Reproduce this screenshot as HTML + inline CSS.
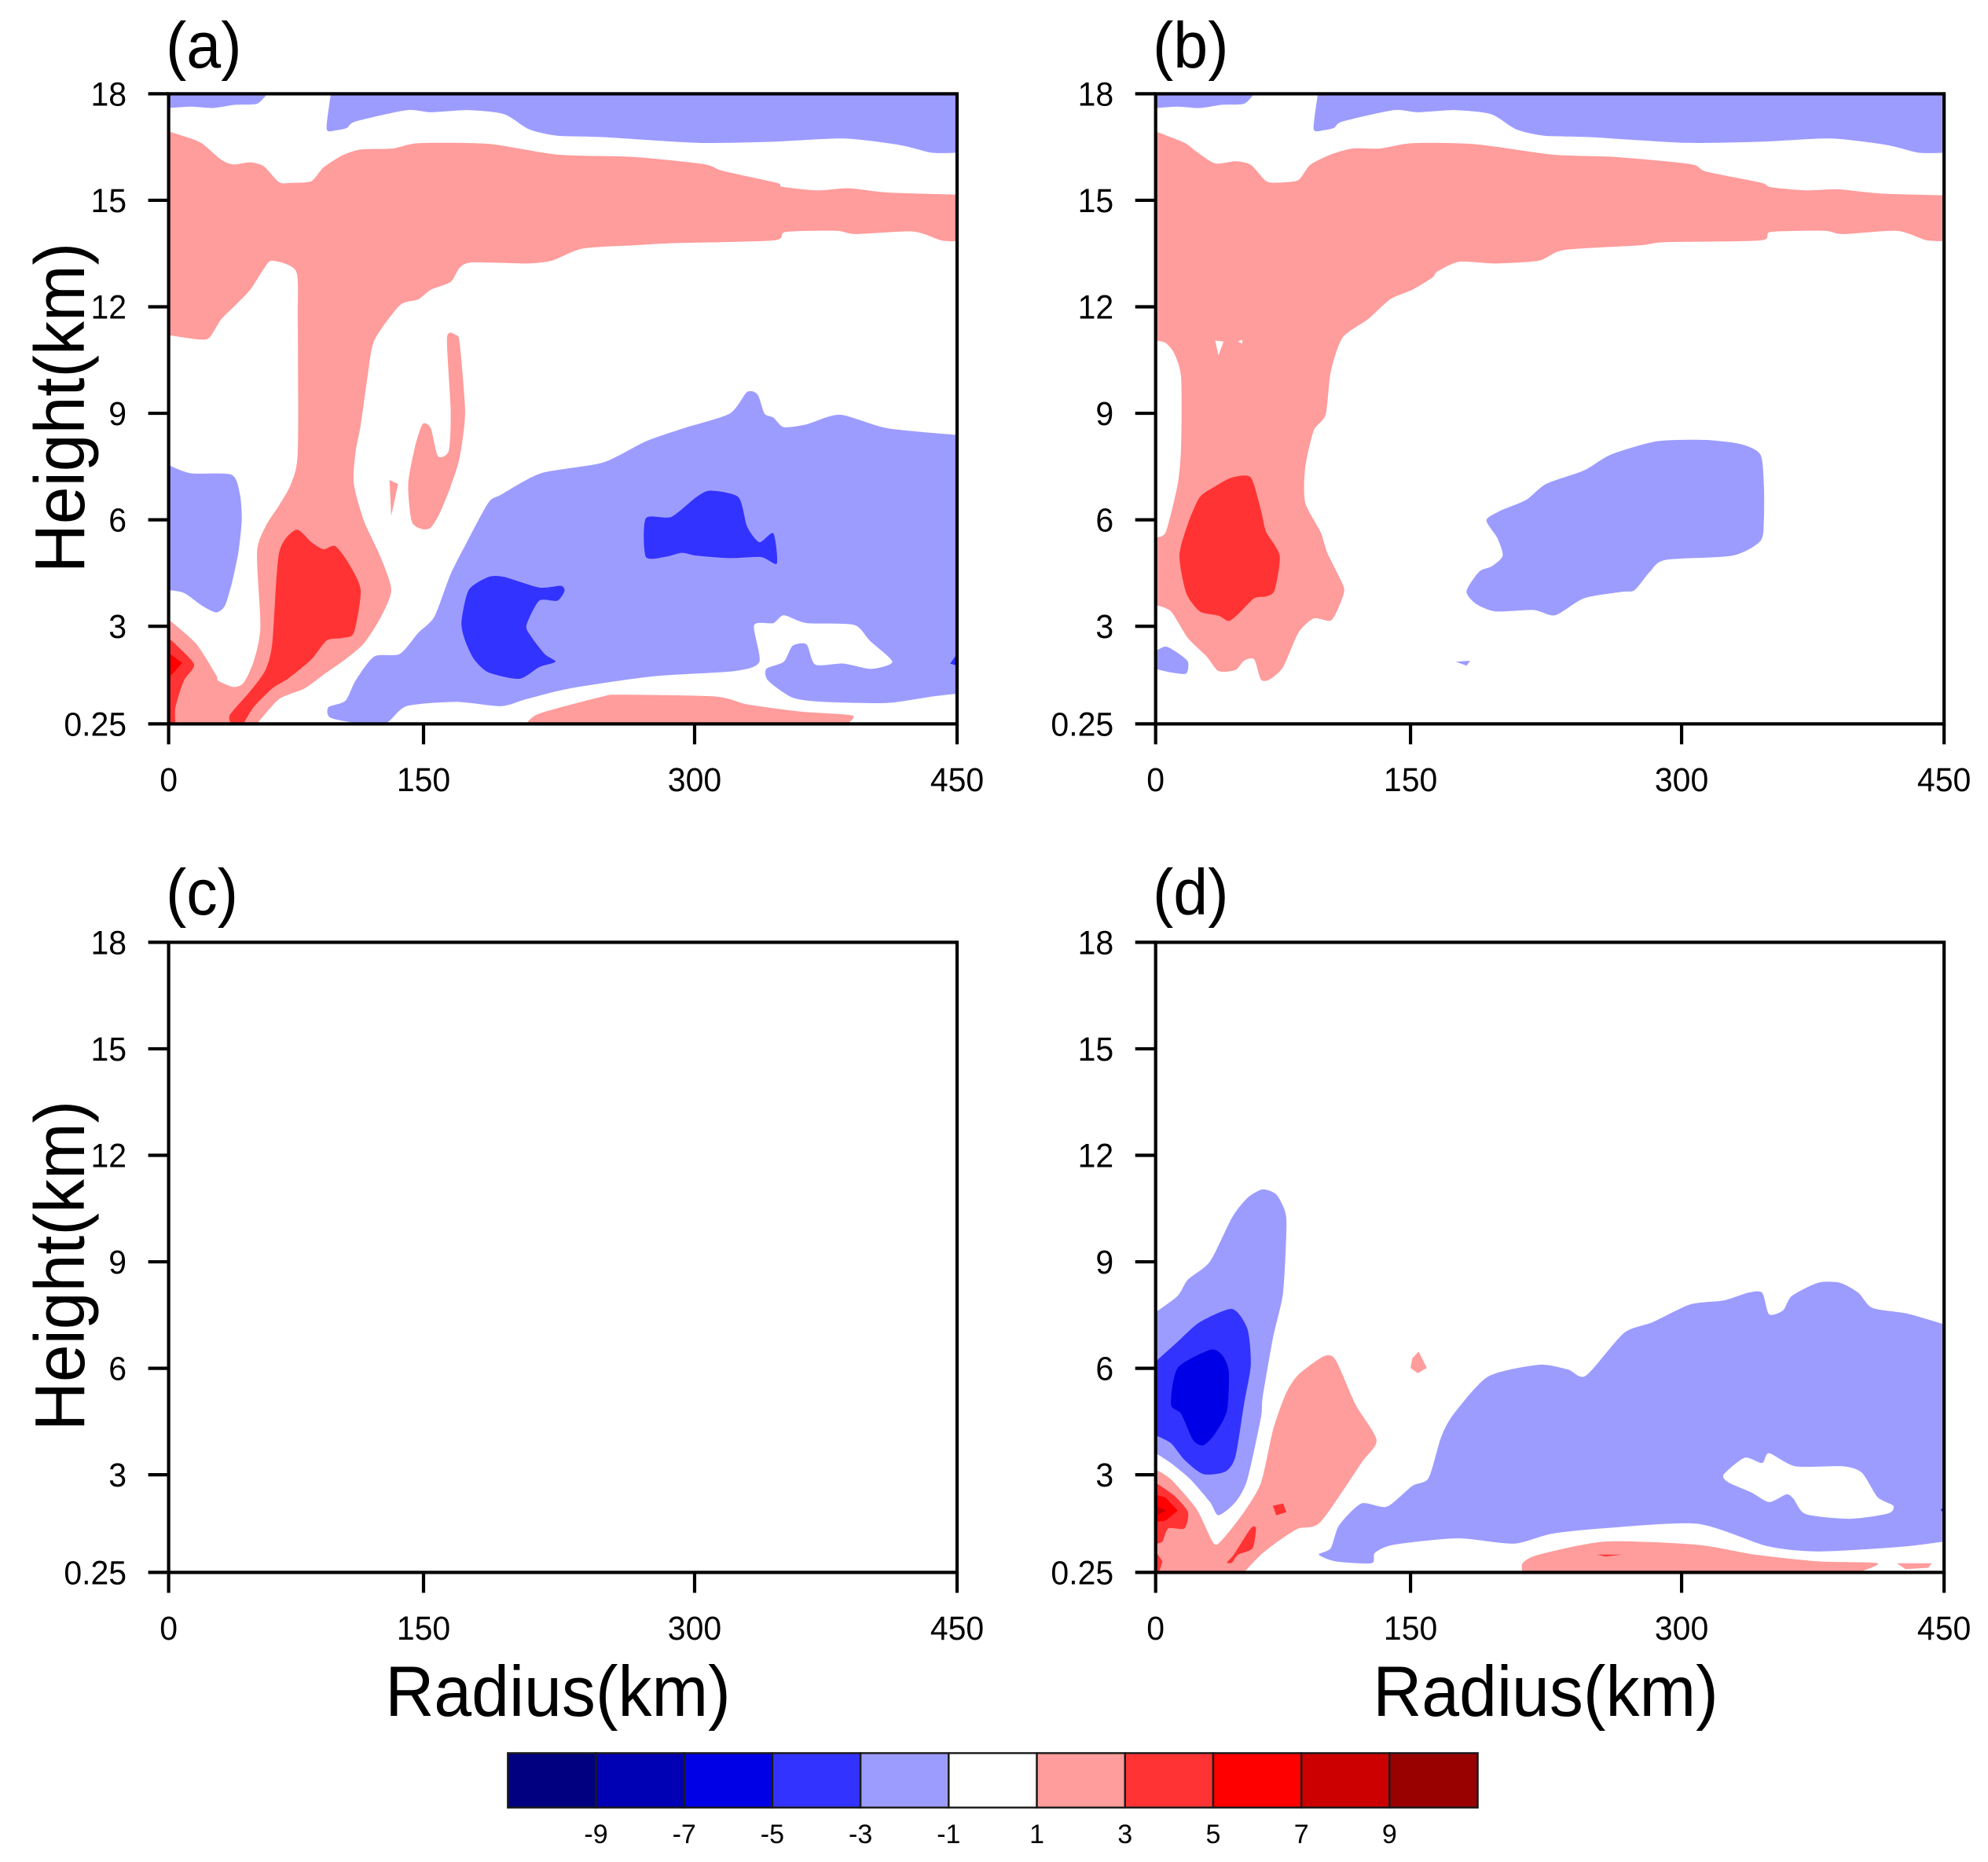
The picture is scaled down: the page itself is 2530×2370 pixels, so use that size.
<!DOCTYPE html>
<html lang="en">
<head>
<meta charset="utf-8">
<title>Radius-height contour panels</title>
<style>
html,body{margin:0;padding:0;background:#fff;}
svg{display:block;}
text{font-family:"Liberation Sans",Arial,sans-serif;fill:#000;}
</style>
</head>
<body>
<svg id="figure" xmlns="http://www.w3.org/2000/svg" width="2530" height="2370" viewBox="0 0 2530 2370">
<rect x="0" y="0" width="2530" height="2370" fill="#ffffff"/>
<text transform="translate(211,86) scale(1,1.04)" font-size="79">(a)</text>
<text transform="translate(1467,86) scale(1,1.04)" font-size="79">(b)</text>
<text transform="translate(211,1164) scale(1,1.04)" font-size="79">(c)</text>
<text transform="translate(1467,1164) scale(1,1.04)" font-size="79">(d)</text>
<text transform="translate(107,519) rotate(-90) scale(1,1.05)" text-anchor="middle" font-size="86">Height(km)</text>
<text transform="translate(107,1611) rotate(-90) scale(1,1.05)" text-anchor="middle" font-size="86">Height(km)</text>
<text transform="translate(710,2184) scale(1,1.06)" text-anchor="middle" font-size="86">Radius(km)</text>
<text transform="translate(1967,2184) scale(1,1.06)" text-anchor="middle" font-size="86">Radius(km)</text>
</svg>
<script>
// Axis labels and values
const radiusTicks = [0, 150, 300, 450];
const heightTicks = [18, 15, 12, 9, 6, 3, 0.25];
const heightTickLabels = ["18", "15", "12", "9", "6", "3", "0.25"];
const colorbarLabels = ["-9", "-7", "-5", "-3", "-1", "1", "3", "5", "7", "9"];
const bandPalette = ["#000080", "#0000b4", "#0000e6", "#3333ff", "#9c9cff", "#ffffff", "#ff9c9c", "#ff3333", "#ff0000", "#cc0000", "#990000"];

// Contour outlines, every point is [radius km, height km]
const topBlueLeft = [[0,18],[58,18],[52,17.72],[39,17.69],[26,17.6],[13,17.64],[0,17.6]];
const topBlueRight = [[95.5,18],[93,17.01],[98.5,16.97],[105,17.04],[110,17.22],[140,17.54],[154,17.48],[175,17.54],[194.5,17.43],[208.5,17],[224,16.82],[249,16.78],[301.5,16.62],[345,16.65],[385,16.74],[417,16.56],[435.5,16.34],[450,16.34],[450,18]];

const aPinkBody = [[0,16.94],[13,16.74],[20,16.59],[31,16.14],[38,16.01],[48,16.07],[56,15.96],[65,15.51],[72,15.49],[84,15.54],[91,15.92],[102,16.26],[113,16.43],[132,16.46],[147,16.61],[186,16.59],[224,16.29],[266,16.22],[305,16.02],[316,15.83],[347,15.49],[350,15.38],[370,15.28],[388,15.34],[410,15.22],[450,15.16],[450,13.85],[441,13.87],[425,14.12],[392,14.05],[381,14.14],[352,14.11],[345,13.87],[287,13.79],[266,13.73],[238,13.64],[221,13.3],[207,13.22],[177,13.25],[170,13.1],[165,12.7],[154,12.48],[147,12.21],[136,12.04],[121,11.05],[117,10.01],[113,8.66],[110,7.91],[109,7.01],[115,5.96],[125,4.92],[131,4.02],[125,3.27],[115,2.52],[104,2.07],[93,1.7],[80,1.25],[65,0.95],[52,0.25],[0,0.25],[0,3.19],[16,2.52],[28,1.62],[29,1.47],[38,1.29],[44,1.4],[50,2],[54,2.97],[52,5.07],[57,5.81],[65,6.41],[72,7.01],[76,7.91],[76,11.65],[75,13],[61,13.3],[56,13.07],[48,12.48],[39,12.03],[31,11.65],[24,11.13],[18,11.08],[0,11.2]];
const aRedStem = [[75,5.72],[84,5.37],[91,5.17],[98,5.26],[106,4.77],[113,4.02],[109,2.82],[102,2.67],[93,2.6],[84,2.07],[71,1.55],[61,1.25],[50,0.72],[44,0.25],[37,0.25],[36,0.5],[48,1.17],[57,1.77],[61,2.52],[65,5.07]];
const aRedCorner = [[0,2.67],[5,2.45],[15,1.92],[9,1.47],[4,0.72],[4,0.25],[0,0.25]];
const aPureRedCorner = [[0,2.25],[8,1.97],[1.5,1.62],[0,1.62]];
const aPinkIslandLarge = [[163,11.13],[168,11.2],[170,10.98],[173,9.03],[170,7.76],[165,6.94],[159,6.19],[154,5.78],[149,5.74],[143,5.96],[141,7.01],[145,8.06],[149.5,8.7],[154,8.58],[158,7.79],[164,7.95],[165,9.11]];
const aPinkIslandSmall = [[130,7.12],[135,7.01],[131,6.11]];
const aBlueMain = [[94,0.72],[104,0.9],[110,1.47],[121,2.15],[136,2.22],[147,2.82],[156,3.27],[165,4.47],[174,5.37],[186,6.49],[193,6.71],[215,7.31],[249,7.61],[273,8.21],[294,8.58],[320,8.99],[330,9.6],[336,9.53],[340,8.99],[345,8.88],[351,8.61],[364,8.69],[383,8.96],[410,8.58],[450,8.39],[450,1.1],[435.5,1.02],[410,0.84],[374,0.87],[356,0.99],[342,1.47],[341,1.8],[351,2],[356,2.45],[364,2.49],[369,1.92],[385,1.95],[401,1.8],[413,2],[400,2.6],[391,3.04],[364,3.09],[351,3.31],[345,3.09],[334,3.03],[337,2],[323,1.74],[277,1.59],[231,1.25],[207,0.95],[193,0.75],[168,0.87],[140,0.75],[128,0.28],[110,0.28],[95,0.43]];
const aBlueLeft = [[0,7.54],[13,7.31],[37,7.27],[42,6.71],[43,5.96],[41,5.07],[37,4.17],[33,3.57],[28,3.39],[20,3.57],[9,3.94],[0,4.02]];
const aDeepBlueLower = [[186,4.39],[194.5,4.39],[214,4.09],[226,4.14],[228,3.99],[224,3.72],[214,3.72],[207,3.04],[209,2.75],[217,2.22],[223,2],[214,1.85],[203,1.52],[186,1.7],[178,2.07],[173,2.6],[171,3.12],[175,4.02]];
const aDeepBlueUpper = [[273,6.04],[287,6.08],[301,6.64],[309,6.82],[325,6.64],[330,5.81],[337,5.37],[345,5.62],[347,4.77],[338,4.95],[320,4.92],[301,4.99],[293,5.07],[284,4.96],[273,4.96]];
const aDeepBlueEdge = [[450,2.22],[446,1.95],[450,1.89]];
const aPinkBottom = [[207,0.25],[214,0.54],[249,1.02],[259,1.07],[312,1.02],[330,0.8],[360,0.6],[390,0.49],[387,0.25]];

const bPinkBody = [[0,16.94],[17,16.62],[24,16.37],[35,16.04],[47,16.1],[56,16],[65,15.54],[73,15.5],[84,15.57],[91,16],[103,16.29],[116,16.46],[132,16.46],[151,16.61],[186,16.58],[228,16.29],[263,16.22],[305,16.02],[314,15.81],[345,15.5],[351,15.37],[371,15.28],[389,15.31],[414,15.19],[450,15.14],[450,13.85],[439.5,13.88],[423,14.14],[392,14.05],[381.5,14.14],[351,14.11],[345,13.87],[291,13.82],[277,13.73],[235,13.6],[221,13.3],[197,13.22],[177,13.27],[165,13],[162,12.82],[151,12.48],[138,12.21],[125,11.65],[110,11.13],[103,10.16],[100,8.96],[93,8.51],[88,7.46],[88,6.49],[97,5.66],[101,5.07],[108,4.39],[111,4.02],[108,3.57],[103,3.16],[93,3.22],[84,2.82],[75,1.85],[67,1.5],[62,1.5],[58,2.07],[52,2.03],[47,1.77],[37,1.74],[30,2.15],[19,2.67],[9,3.42],[0,3.6],[0,5.51],[6,5.66],[13,7.01],[15,8.06],[15,10.01],[11,10.68],[6,10.98],[0,11.05]];
const bWhiteHoleLeft = [[35,11.05],[40,11.02],[37,10.63]];
const bWhiteHoleRight = [[48.5,11.02],[51,11.08],[51,10.96]];
const bRedCore = [[45,7.19],[56,7.19],[62,6.26],[65,5.66],[73,4.99],[70,4.02],[65,3.84],[58,3.79],[48.5,3.34],[43,3.15],[37,3.3],[26,3.42],[18,3.94],[14,4.99],[19,5.89],[26,6.64],[35,6.94]];
const bBlueMain = [[192,5.99],[200,6.26],[214,6.56],[225,7.01],[246,7.39],[261,7.84],[286,8.21],[313,8.25],[334,8.13],[345,7.84],[347,7.01],[347,5.96],[345,5.4],[329,4.99],[291,4.87],[282.5,4.54],[274,4.02],[267,3.97],[246,3.79],[230,3.31],[218,3.46],[197,3.42],[186,3.64],[181,3.99],[188,4.54],[195,4.69],[201,4.99],[198,5.49]];
const bBlueSpeck = [[175,2],[183,2.03],[181,1.89]];
const bBlueCorner = [[0,2.3],[6,2.43],[13,2.25],[19,2],[18,1.67],[9,1.7],[0,1.8]];

const dBlueColumn = [[0,7.58],[13,8.04],[19,8.5],[32,9.01],[45,10.25],[54,10.8],[63,11.04],[71,10.9],[76,10.44],[77,9.97],[75,8.13],[69,6.84],[63,5.18],[62,4.62],[54,2.87],[47,2.23],[37,1.86],[32,2.23],[20.5,2.87],[9,3.33],[0,3.61]];
const dDeepBlue = [[0,6.19],[13,6.75],[26,7.3],[45,7.67],[54,7.11],[56,6.1],[52,4.99],[47,3.52],[41,3.09],[28,3.02],[17,3.42],[9,3.89],[0,4.11]];
const dVividBlue = [[13,6.01],[32,6.52],[39,6.38],[43,5.92],[42,4.81],[35,4.16],[28,3.83],[22,3.98],[15,4.72],[9,4.99]];
const dPinkBody = [[0,3.15],[9,2.87],[24,2.04],[34,1.08],[39,1.16],[52,1.95],[62,2.78],[69,4.25],[76.5,5.27],[84,5.82],[99,6.34],[106,6.23],[117.5,4.99],[130,3.98],[121,3.33],[97,1.67],[84,1.49],[73,1.16],[62,0.75],[52,0.25],[0,0.25]];
const dRedCorner = [[0,2.78],[11,2.41],[19,1.95],[17,1.49],[7.5,1.49],[4,1.12],[0,1.06]];
const dPureRedCorner = [[0,2.45],[6,2.35],[13,1.99],[6,1.71],[0,1.67]];
const dDarkRedCorner = [[0,2.13],[6,1.99],[0,1.82]];
const dRedSpeckUpper = [[69,2.13],[75,2.19],[77,1.95],[71,1.86]];
const dRedSpeckLower = [[46,0.75],[56,1.49],[59,1.49],[57,0.93],[48.5,0.75],[45,0.53],[42,0.53]];
const dRedSpeckAxis = [[0,0.84],[4,0.56],[2,0.25],[0,0.25]];
const dPinkIsland = [[154.5,6.47],[159,6.01],[154,5.86],[150,6.01],[151,6.28]];
const dBlueMain = [[96,0.75],[103,0.93],[108,1.58],[121,2.19],[136,2.1],[151,2.69],[160,2.91],[167,4.07],[174,4.72],[193,5.77],[221,6.1],[237,5.97],[247,5.79],[268,6.99],[284,7.3],[305,7.8],[324,7.91],[338,8.13],[346,8.13],[350,7.52],[358,7.63],[363,8.04],[378,8.41],[390.5,8.41],[401,8.13],[409,7.7],[429,7.54],[450,7.24],[450,1.12],[425,0.97],[378,0.84],[349,0.99],[309,1.62],[256,1.49],[228,1.34],[207,1.06],[176,1.21],[140,1.03],[129,0.8],[127,0.51],[106,0.56]];
const dWhiteHole = [[324,3],[336,3.48],[346,3.33],[350,3.61],[365,3.24],[392,3.24],[403,3.06],[412,2.37],[421,2.13],[418,1.91],[396,1.76],[371,1.89],[364,2.32],[360,2.45],[350,2.23],[340,2.5],[327,2.78]];
const dDeepBlueEdge = [[450,2.13],[448,2],[450,1.93]];
const dPinkBottom = [[212,0.25],[212,0.51],[221,0.75],[258,1.12],[309,1.03],[342,0.75],[378,0.56],[412,0.51],[401,0.25]];
const dPinkBottomRight = [[423,0.51],[443,0.51],[441,0.38],[428,0.34]];
const dRedSliver = [[253,0.75],[267,0.75],[258,0.7]];

// Panel contents: [band centre value, outline], drawn in order
const panelAFields = [[-2,topBlueLeft],[-2,topBlueRight],[-2,aBlueLeft],[-2,aBlueMain],[-4,aDeepBlueLower],[-4,aDeepBlueUpper],[-4,aDeepBlueEdge],[2,aPinkBody],[2,aPinkIslandLarge],[2,aPinkIslandSmall],[2,aPinkBottom],[4,aRedStem],[4,aRedCorner],[6,aPureRedCorner]];
const panelBFields = [[-2,topBlueLeft],[-2,topBlueRight],[-2,bBlueMain],[-2,bBlueSpeck],[-2,bBlueCorner],[2,bPinkBody],[0,bWhiteHoleLeft],[0,bWhiteHoleRight],[4,bRedCore]];
const panelCFields = [];
const panelDFields = [[-2,dBlueColumn],[-4,dDeepBlue],[-6,dVividBlue],[-2,dBlueMain],[0,dWhiteHole],[-4,dDeepBlueEdge],[2,dPinkBody],[2,dPinkIsland],[2,dPinkBottom],[2,dPinkBottomRight],[4,dRedCorner],[6,dPureRedCorner],[8,dDarkRedCorner],[4,dRedSpeckUpper],[4,dRedSpeckLower],[4,dRedSpeckAxis],[4,dRedSliver]];

const svgNS = "http://www.w3.org/2000/svg";
const figure = document.getElementById("figure");
const plotWidth = 1003.4;
const plotHeight = 802;

function radiusFraction(r) {
  // the radial axis is stretched unevenly between its labelled ticks
  if (r <= 150) return (r / 150) * 0.3233;
  if (r <= 300) return 0.3233 + ((r - 150) / 150) * 0.3438;
  return 0.6671 + ((r - 300) / 150) * 0.3329;
}
function xScale(r, left) { return left + plotWidth * radiusFraction(r); }
function yScale(h, top) { return top + ((18 - h) / 17.75) * plotHeight; }
function bandColor(band) { return bandPalette[(band + 10) / 2]; }
function onFrame(p) { return p[0] <= 0 || p[0] >= 450 || p[1] >= 18 || p[1] <= 0.25; }

function make(parent, tag, attrs) {
  const node = document.createElementNS(svgNS, tag);
  Object.keys(attrs).forEach(function (k) { node.setAttribute(k, attrs[k]); });
  parent.appendChild(node);
  return node;
}

// Closed outline through every point, gently rounded like the reference contours;
// points sitting on the plot frame stay sharp so fills meet the axes cleanly.
function outlinePath(points, sharp) {
  const n = points.length;
  const f = function (v) { return v.toFixed(1); };
  if (n < 6) {
    return "M" + points.map(function (p) { return f(p[0]) + " " + f(p[1]); }).join("L") + "Z";
  }
  const k = 0.12;
  let d = "M" + f(points[0][0]) + " " + f(points[0][1]);
  for (let i = 0; i < n; i++) {
    const i0 = (i - 1 + n) % n, i2 = (i + 1) % n, i3 = (i + 2) % n;
    const p0 = points[i0], p1 = points[i], p2 = points[i2], p3 = points[i3];
    const k1 = sharp[i] ? 0 : k;
    const k2 = sharp[i2] ? 0 : k;
    d += "C" + f(p1[0] + (p2[0] - p0[0]) * k1) + " " + f(p1[1] + (p2[1] - p0[1]) * k1) + " " +
         f(p2[0] - (p3[0] - p1[0]) * k2) + " " + f(p2[1] - (p3[1] - p1[1]) * k2) + " " +
         f(p2[0]) + " " + f(p2[1]);
  }
  return d + "Z";
}

function drawPanel(id, left, top, fields) {
  const group = make(figure, "g", {});
  
  

  const defs = make(group, "defs", {});
  const clip = make(defs, "clipPath", { id: "clip-" + id });
  make(clip, "rect", { x: left, y: top, width: plotWidth, height: plotHeight });

  const fieldGroup = make(group, "g", { "clip-path": "url(#clip-" + id + ")" });
  
  
  fields.forEach(function (field) {
    const pts = field[1].map(function (p) {
      return [xScale(p[0], left), yScale(p[1], top)];
    });
    const shape = make(fieldGroup, "path", { d: outlinePath(pts, field[1].map(onFrame)), fill: bandColor(field[0]) });
    
    
  });

  const frame = make(group, "rect", { x: left, y: top, width: plotWidth, height: plotHeight, fill: "none", stroke: "#000", "stroke-width": 4.2 });
  
  

  radiusTicks.forEach(function (r) {
    const x = xScale(r, left);
    const tick = make(group, "line", { x1: x, x2: x, y1: top + plotHeight, y2: top + plotHeight + 26, stroke: "#000", "stroke-width": 4.2 });
    
    
    const label = make(group, "text", { transform: "translate(" + x + "," + (top + plotHeight + 85.5) + ") scale(1,1.05)", "text-anchor": "middle", "font-size": 41 });
    label.textContent = String(r);
    
    
  });

  heightTicks.forEach(function (h, i) {
    const y = yScale(h, top);
    const tick = make(group, "line", { x1: left - 26, x2: left, y1: y, y2: y, stroke: "#000", "stroke-width": 4.2 });
    
    
    const label = make(group, "text", { transform: "translate(" + (left - 53.5) + "," + (y + 15) + ") scale(1,1.05)", "text-anchor": "end", "font-size": 41 });
    label.textContent = heightTickLabels[i];
    
    
  });
}

function drawColorbar(left, top, width, height) {
  const group = make(figure, "g", {});
  
  
  const boxWidth = width / bandPalette.length;
  bandPalette.forEach(function (color, i) {
    const box = make(group, "rect", { x: left + i * boxWidth, y: top, width: boxWidth, height: height, fill: color, stroke: "#1a1a1a", "stroke-width": 2.4 });
    
    
  });
  colorbarLabels.forEach(function (text, i) {
    const label = make(group, "text", { x: left + (i + 1) * boxWidth, y: top + height + 45.5, "text-anchor": "middle", "font-size": 34 });
    label.textContent = text;
    
    
  });
}

drawPanel("a", 214.6, 119.4, panelAFields);
drawPanel("b", 1470.7, 119.4, panelBFields);
drawPanel("c", 214.6, 1199.4, panelCFields);
drawPanel("d", 1470.7, 1199.4, panelDFields);
drawColorbar(646.3, 2231.4, 1234.3, 69.3);
</script>
</body>
</html>
